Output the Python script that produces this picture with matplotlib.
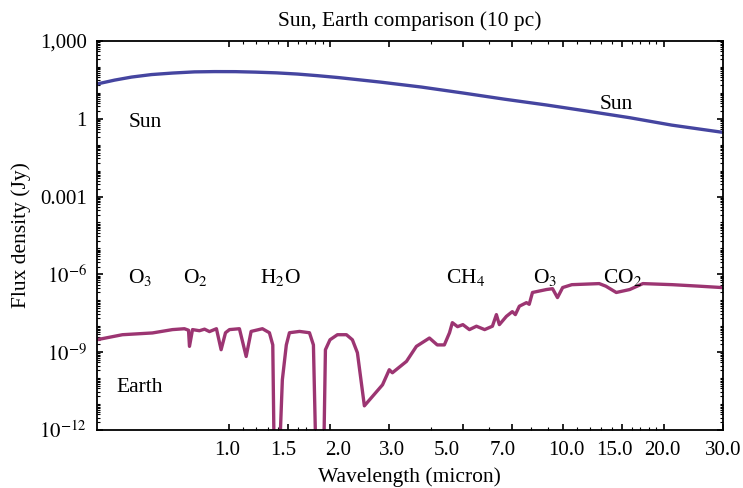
import numpy as np
import matplotlib
matplotlib.use("Agg")
import matplotlib.pyplot as plt
from matplotlib.ticker import FixedLocator, LogLocator, NullFormatter
from matplotlib.transforms import ScaledTranslation

plt.rcParams['font.family'] = ['Liberation Serif', 'DejaVu Serif']
plt.rcParams['mathtext.fontset'] = 'stix'

# Sun spectrum (micron, Jy)
sun_wl = [0.40, 0.453, 0.509, 0.584, 0.675, 0.786, 0.902, 1.042, 1.196, 1.383,
          1.60, 1.834, 2.12, 2.83, 3.76, 5.02, 6.66, 8.9, 11.8, 15.8, 21.1, 30.0]
sun_flux = [21.8, 31.0, 40.6, 50.7, 58.0, 64.4, 66.0, 65.7, 63.0, 59.0,
            53.0, 46.0, 38.8, 26.0, 16.7, 9.8, 5.7, 3.4, 1.97, 1.1, 0.57, 0.30]

# Earth spectrum (micron, Jy)
earth_wl = [0.40, 0.478, 0.588, 0.675, 0.733, 0.754, 0.759, 0.775, 0.813, 0.842,
            0.871, 0.914, 0.944, 0.973, 1.0, 1.071, 1.122, 1.161, 1.255, 1.317,
            1.348, 1.364, 1.402, 1.44, 1.48, 1.512, 1.621, 1.736, 1.784, 1.822,
            1.91, 1.938, 2.0, 2.105, 2.24, 2.334, 2.416, 2.535, 2.68, 2.873,
            3.01, 3.075, 3.389, 3.629, 3.97, 4.19, 4.4, 4.56, 4.65, 4.82,
            5.0, 5.23, 5.49, 5.81, 6.13, 6.3, 6.43, 6.75, 7.03, 7.18,
            7.38, 7.75, 7.9, 8.08, 8.9, 9.28, 9.6, 9.95, 10.6, 12.8,
            13.4, 14.4, 15.8, 17.3, 21.2, 25.5, 29.8]
earth_flux = [3.0e-9, 4.7e-9, 5.5e-9, 7.4e-9, 8.0e-9, 7.0e-9, 1.67e-9, 7.4e-9, 6.7e-9, 7.7e-9,
              6.2e-9, 8.0e-9, 1.24e-9, 5.6e-9, 7.4e-9, 8.0e-9, 6.8e-10, 6.3e-9, 8.0e-9, 5.6e-9,
              1.9e-9, 1e-14, 1e-14, 8.6e-11, 1.9e-9, 5.6e-9, 6.3e-9, 5.6e-9, 1.9e-9, 1e-14,
              1e-14, 1.24e-9, 3.0e-9, 4.7e-9, 4.7e-9, 3.0e-9, 9.5e-10, 8.5e-12, 1.95e-11, 5.5e-11,
              2.1e-10, 1.6e-10, 4.4e-10, 1.67e-9, 3.5e-9, 1.9e-9, 1.9e-9, 5.6e-9, 1.37e-8, 9.6e-9,
              1.15e-8, 7.4e-9, 1.0e-8, 7.4e-9, 1.0e-8, 2.8e-8, 1.15e-8, 2.4e-8, 3.65e-8, 2.8e-8,
              5.9e-8, 8.1e-8, 7.0e-8, 2.0e-7, 2.6e-7, 2.8e-7, 1.27e-7, 3.1e-7, 4.0e-7, 4.4e-7,
              3.5e-7, 2.0e-7, 2.6e-7, 4.4e-7, 4.0e-7, 3.5e-7, 3.1e-7]

x_ticks = [1.0, 1.5, 2.0, 3.0, 5.0, 7.0, 10.0, 15.0, 20.0, 30.0]
x_minor = [1.1, 1.2, 1.3, 1.4, 1.6, 1.7, 1.8, 1.9, 4, 6, 8, 9,
           11, 12, 13, 14, 16, 17, 18, 19]
y_ticks = [1e-12, 1e-9, 1e-6, 1e-3, 1, 1e3]
y_labels = [r'$10^{-12}$', r'$10^{-9}$', r'$10^{-6}$', '0.001', '1', '1,000']

# (text, wavelength, flux)
labels = [('Sun', 0.56, 0.72), ('Sun', 14.4, 3.4), ('Earth', 0.54, 4.2e-11),
          (r'O$_3$', 0.54, 7.9e-7), (r'O$_2$', 0.79, 7.9e-7), (r'H$_2$O', 1.42, 7.9e-7),
          (r'CH$_4$', 5.09, 7.9e-7), (r'O$_3$', 8.8, 7.9e-7), (r'CO$_2$', 15.1, 7.9e-7)]

# the printed x labels sit a little off their ticks (points)
x_label_shift = [-1.5, -3.5, 5.5, 2, -11.5, -6.5, 2, -5.5, -1.5, 0.5]

fig = plt.figure(figsize=(7.43, 4.88), dpi=100)
ax = fig.add_axes([0.130, 0.119, 0.8427, 0.797])

ax.plot(sun_wl, sun_flux, color='#4545a0', lw=2.4)
ax.plot(earth_wl, earth_flux, color='#9c3572', lw=2.4)

ax.set_xscale('log')
ax.set_yscale('log')
ax.set_xlim(0.4, 30)
ax.set_ylim(1e-12, 1e3)

ax.xaxis.set_major_locator(FixedLocator(x_ticks))
ax.xaxis.set_minor_locator(FixedLocator(x_minor))
ax.set_xticklabels([f'{v:.1f}' for v in x_ticks])
ax.xaxis.set_minor_formatter(NullFormatter())
ax.yaxis.set_major_locator(FixedLocator(y_ticks))
ax.set_yticklabels(y_labels)
ax.yaxis.set_minor_locator(LogLocator(base=10, subs=np.arange(1, 10), numticks=40))
ax.yaxis.set_minor_formatter(NullFormatter())

ax.tick_params(which='both', direction='in', top=True, right=True, labelsize=15)
ax.tick_params(axis='x', which='major', pad=8)
ax.tick_params(axis='y', which='major', pad=7)
ax.tick_params(which='major', length=4, width=1.2)
ax.tick_params(which='minor', length=2, width=0.8)
for s in ax.spines.values():
    s.set_linewidth(1.3)

for lab, dx in zip(ax.get_xticklabels(), x_label_shift):
    lab.set_transform(lab.get_transform() + ScaledTranslation(dx / 72, 0, fig.dpi_scale_trans))

for txt, wl, fl in labels:
    ax.text(wl, fl, txt, fontsize=15.5, ha='center', va='center')

ax.set_title('Sun, Earth comparison (10 pc)', fontsize=15.5, pad=11)
ax.set_xlabel('Wavelength (micron)', fontsize=15.5, labelpad=5)
ax.set_ylabel('Flux density (Jy)', fontsize=15.5, labelpad=6)

plt.savefig('out.png', dpi=100)
plt.close()
